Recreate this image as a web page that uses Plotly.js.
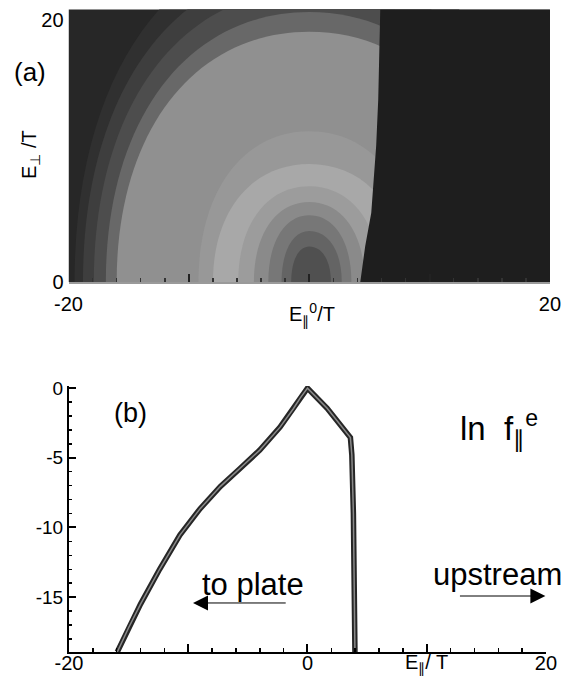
<!DOCTYPE html>
<html><head><meta charset="utf-8">
<script src="https://cdn.plot.ly/plotly-3.0.1.min.js"></script>
<style>html,body{margin:0;padding:0;background:#fff;}</style>
</head><body>
<div id="chart" style="width:572px;height:677px;"></div>
<script>
// ---- Panel (a): contour bands of the distribution ----
// each band boundary: left intercept, right intercept (on E_perp = 0), top height
const ringLeft  = [-19.5, -18.8, -17.9, -16.9, -16.0, -9.2, -8.0, -5.9, -4.6, -3.4, -2.3, -1.5];
const ringRight = [ 19.5,  18.8,  17.9,  16.9,  16.0,  9.2,  8.0,  5.9,  4.6,  3.5,  2.7,  1.8];
const ringTop   = [ 26.0,  24.0,  22.3,  20.6,  19.1, 11.5,  9.0,  7.3,  6.1,  5.1,  3.9,  2.7];
const ringGray  = ['#303030','#3e3e3e','#4d4d4d','#686868','#909090','#989898','#a8a8a8','#9c9c9c','#8a8a8a','#777777','#646464','#505050'];
const outerGray = '#272727';
// cutoff boundary (right of it the distribution is empty)
const cutX = [4.24, 4.65, 5.15, 5.56, 5.73, 5.9];
const cutY = [0, 2.75, 5.27, 10.4, 13.9, 20.8];
const cutGray = '#1e1e1e';

// ---- Panel (b): ln f_par^e vs E_par/T ----
const bx = [-15.95, -15.0, -14.0, -12.4, -10.7, -9.0, -7.3, -5.7, -4.0, -2.3, -1.2, -0.6, 0, 1.65, 3.6, 3.72, 3.85, 3.98];
const by = [-18.94, -17.2, -15.5, -13.0, -10.55, -8.65, -7.05, -5.8, -4.45, -2.8, -1.5, -0.7, 0, -1.45, -3.55, -4.8, -9.0, -18.94];

const xTicksA = [-20, -10, 0, 10, 20];
const xTextA  = ['-20', '', '', '', '20'];
const yTicksA = [0, 20];
const xTicksB = [-20, -10, 0, 10, 20];
const xTextB  = ['-20', '', '0', '', '20'];
const yTicksB = [0, -5, -10, -15];
const yTextB  = ['0', '-5', '-10', '-15'];

const xRangeA = [-20, 20], yRangeA = [0, 20.8];
const xRangeB = [-20, 20], yRangeB = [-18.94, 0.15];

const FONT = 'Liberation Sans, Arial, Helvetica, sans-serif';
const k = 0.6;

const shapes = [{
  type: 'rect', xref: 'x', yref: 'y', layer: 'below',
  x0: xRangeA[0], x1: xRangeA[1], y0: yRangeA[0], y1: yRangeA[1] + 1,
  fillcolor: outerGray, line: {width: 0}
}];
ringLeft.forEach((L, i) => {
  const R = ringRight[i], T = ringTop[i];
  shapes.push({
    type: 'path', xref: 'x', yref: 'y', layer: 'below',
    path: `M ${L},0 C ${L},${k*T} ${k*L},${T} 0,${T} C ${k*R},${T} ${R},${k*T} ${R},0 Z`,
    fillcolor: ringGray[i], line: {width: 0}
  });
});

const traces = [
  { // empty region right of the cutoff
    x: cutX.concat([xRangeA[1], xRangeA[1]]),
    y: cutY.concat([yRangeA[1], yRangeA[0]]),
    xaxis: 'x', yaxis: 'y', mode: 'lines', fill: 'toself',
    fillcolor: cutGray, line: {width: 0, color: cutGray}, hoverinfo: 'skip'
  },
  { x: bx, y: by, xaxis: 'x2', yaxis: 'y2', mode: 'lines',
    line: {color: '#262626', width: 5.5}, hoverinfo: 'skip' },
  { x: bx, y: by, xaxis: 'x2', yaxis: 'y2', mode: 'lines',
    line: {color: '#8a8a8a', width: 1.5}, hoverinfo: 'skip' }
];

const tf = {family: FONT, size: 20, color: '#000'};
const layout = {
  width: 572, height: 677,
  margin: {l: 0, r: 0, t: 0, b: 0},
  paper_bgcolor: '#fff', plot_bgcolor: '#fff',
  showlegend: false,
  font: {family: FONT, color: '#000'},
  xaxis: {
    domain: [0.1198, 0.9615], range: xRangeA, anchor: 'y',
    showline: true, linecolor: '#9a9a9a', linewidth: 2,
    ticks: 'inside', tickmode: 'array', tickvals: xTicksA, ticktext: xTextA,
    ticklen: 8, tickwidth: 2, tickcolor: '#222',
    minor: {ticks: 'inside', tickmode: 'linear', tick0: 0, dtick: 2, ticklen: 4, tickwidth: 1.5, tickcolor: '#333'},
    tickfont: tf, showgrid: false, zeroline: false, ticklabelstandoff: 3
  },
  yaxis: {
    domain: [0.5835, 0.986], range: yRangeA, anchor: 'x',
    showline: false, ticks: '', tickmode: 'array', tickvals: yTicksA,
    tickfont: tf, showgrid: false, zeroline: false, ticklabelstandoff: 4
  },
  xaxis2: {
    domain: [0.1206, 0.9545], range: xRangeB, anchor: 'y2',
    showline: true, linecolor: '#000', linewidth: 2,
    ticks: 'inside', tickmode: 'array', tickvals: xTicksB, ticktext: xTextB,
    ticklen: 8, tickwidth: 2, tickcolor: '#000',
    minor: {ticks: 'inside', tickmode: 'linear', tick0: 0, dtick: 2, ticklen: 4, tickwidth: 1.5, tickcolor: '#000'},
    tickfont: tf, showgrid: false, zeroline: false, ticklabelstandoff: -8
  },
  yaxis2: {
    domain: [0.0369, 0.4298], range: yRangeB, anchor: 'x2',
    showline: true, linecolor: '#000', linewidth: 2,
    ticks: 'inside', tickmode: 'array', tickvals: yTicksB, ticktext: yTextB,
    ticklen: 7, tickwidth: 2, tickcolor: '#000',
    minor: {ticks: 'inside', tickmode: 'linear', tick0: 0, dtick: 1, ticklen: 3.5, tickwidth: 1.5, tickcolor: '#000'},
    tickfont: {family: FONT, size: 19, color: '#000'}, showgrid: false, zeroline: false
  },
  shapes: shapes,
  annotations: [
    {text: '(a)', xref: 'paper', yref: 'paper', x: 30/572, y: 1 - 72/677,
     xanchor: 'center', yanchor: 'middle', showarrow: false, font: {family: FONT, size: 26, color: '#000'}},
    {text: 'E<sub>⊥</sub> /T', xref: 'paper', yref: 'paper', x: 30/572, y: 1 - 155/677,
     textangle: -90, xanchor: 'center', yanchor: 'middle', showarrow: false, font: tf},
    {text: 'E<sub>∥</sub><sup>0</sup>/T', xref: 'paper', yref: 'paper', x: 312/572, y: 1 - 314/677,
     xanchor: 'center', yanchor: 'middle', showarrow: false, font: tf},
    {text: '(b)', xref: 'x2', yref: 'y2', x: -14.8, y: -1.8,
     xanchor: 'center', yanchor: 'middle', showarrow: false, font: {family: FONT, size: 27, color: '#000'}},
    {text: 'ln\u00a0 f<sub>∥</sub><sup>e</sup>', xref: 'x2', yref: 'y2', x: 12.6, y: -2.9,
     xanchor: 'left', yanchor: 'middle', showarrow: false, font: {family: FONT, size: 33, color: '#000'}},
    {text: 'to plate', xref: 'x2', yref: 'y2', x: -4.6, y: -14.1,
     xanchor: 'center', yanchor: 'middle', showarrow: false, font: {family: FONT, size: 31, color: '#000'}},
    {text: 'upstream', xref: 'x2', yref: 'y2', x: 15.9, y: -13.4,
     xanchor: 'center', yanchor: 'middle', showarrow: false, font: {family: FONT, size: 31, color: '#000'}},
    {text: 'E<sub>∥</sub>/ T', xref: 'x2', yref: 'paper', x: 10, y: 1 - 663/677,
     xanchor: 'center', yanchor: 'middle', showarrow: false, font: tf},
    {text: '', xref: 'x2', yref: 'y2', axref: 'x2', ayref: 'y2',
     x: -9.6, y: -15.42, ax: -1.7, ay: -15.42,
     showarrow: true, arrowhead: 2, arrowsize: 3, arrowwidth: 1, arrowcolor: '#000'},
    {text: '', xref: 'x2', yref: 'y2', axref: 'x2', ayref: 'y2',
     x: 19.95, y: -14.92, ax: 12.66, ay: -14.92,
     showarrow: true, arrowhead: 2, arrowsize: 3, arrowwidth: 1, arrowcolor: '#000'}
  ]
};

Plotly.newPlot('chart', traces, layout, {staticPlot: true, displayModeBar: false});
</script>
</body></html>
